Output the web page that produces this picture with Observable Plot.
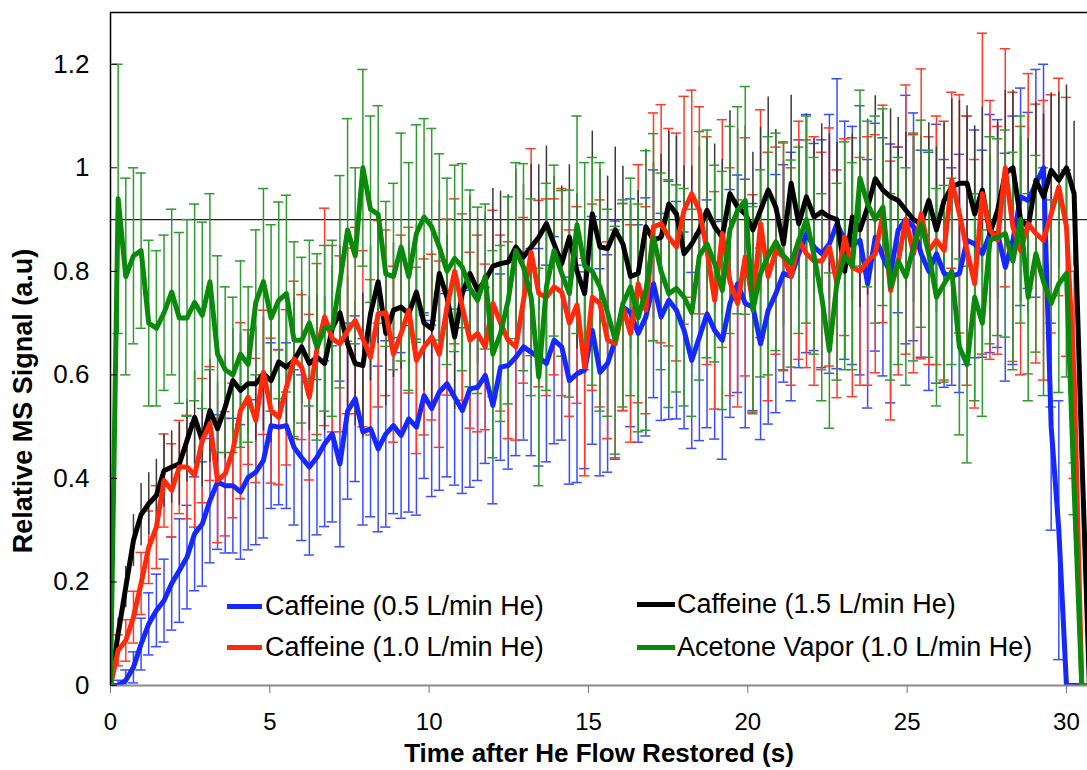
<!DOCTYPE html>
<html><head><meta charset="utf-8">
<script src="https://cdn.jsdelivr.net/npm/d3@7"></script>
<script src="https://cdn.jsdelivr.net/npm/@observablehq/plot@0.6"></script>
<style>
html,body{margin:0;padding:0;background:#fff;}
#wrap{position:relative;width:1087px;height:770px;overflow:hidden;font-family:"Liberation Sans",Arial,sans-serif;}
.leg{position:absolute;font-size:27px;color:#000;white-space:nowrap;line-height:27px;}
.sw{position:absolute;height:5px;}
</style></head><body><div id="wrap"></div>
<script>
// sample times (s)
const time = [0,0.24,0.48,0.72,0.96,1.2,1.44,1.68,1.92,2.16,2.4,2.64,2.88,3.12,3.36,3.6,3.84,4.08,4.32,4.56,4.8,5.04,5.28,5.52,5.76,6,6.24,6.48,6.72,6.96,7.2,7.44,7.68,7.92,8.16,8.4,8.64,8.88,9.12,9.36,9.6,9.84,10.08,10.32,10.56,10.8,11.04,11.28,11.52,11.76,12,12.24,12.48,12.72,12.96,13.2,13.44,13.68,13.92,14.16,14.4,14.64,14.88,15.12,15.36,15.6,15.84,16.08,16.32,16.56,16.8,17.04,17.28,17.52,17.76,18,18.24,18.48,18.72,18.96,19.2,19.44,19.68,19.92,20.16,20.4,20.64,20.88,21.12,21.36,21.6,21.84,22.08,22.32,22.56,22.8,23.04,23.28,23.52,23.76,24,24.24,24.48,24.72,24.96,25.2,25.44,25.68,25.92,26.16,26.4,26.64,26.88,27.12,27.36,27.6,27.84,28.08,28.32,28.56,28.8,29.04,29.28,29.52,29.76,30,30.24,30.48,30.72];

const caffeine05 = [0,0,0.01,0.035,0.08,0.119,0.145,0.164,0.197,0.222,0.248,
0.293,0.312,0.357,0.393,0.386,0.386,0.374,0.402,0.412,0.435,
0.502,0.499,0.502,0.46,0.44,0.422,0.441,0.467,0.486,0.428,
0.53,0.554,0.49,0.496,0.457,0.486,0.502,0.483,0.515,0.499,
0.56,0.535,0.567,0.583,0.557,0.531,0.573,0.576,0.599,0.541,
0.615,0.618,0.634,0.654,0.644,0.634,0.622,0.667,0.654,0.589,
0.602,0.609,0.686,0.605,0.622,0.667,0.731,0.72,0.68,0.712,
0.776,0.712,0.744,0.725,0.686,0.628,0.673,0.718,0.686,0.667,
0.738,0.776,0.738,0.731,0.66,0.725,0.757,0.796,0.79,0.834,
0.873,0.847,0.834,0.853,0.892,0.86,0.85,0.86,0.776,0.866,
0.828,0.796,0.88,0.9,0.886,0.834,0.80,0.834,0.796,0.79,
0.796,0.86,0.853,0.834,0.873,0.873,0.808,0.86,0.944,0.937,
0.97,1.0,0.5,0.3,0,0,0,0];
const caffeine05Err = [0,0.01,0.02,0.03,0.05,0.06,0.07,0.08,0.09,0.1,0.1,
0.11,0.12,0.12,0.13,0.13,0.13,0.13,0.14,0.14,0.15,
0.16,0.15,0.16,0.15,0.16,0.17,0.15,0.16,0.17,0.16,
0.17,0.16,0.18,0.17,0.16,0.18,0.17,0.16,0.18,0.17,
0.16,0.17,0.19,0.18,0.17,0.16,0.19,0.18,0.17,0.19,
0.18,0.2,0.19,0.18,0.2,0.21,0.19,0.2,0.18,0.2,
0.21,0.19,0.22,0.2,0.21,0.23,0.2,0.22,0.21,0.23,
0.22,0.2,0.23,0.21,0.19,0.17,0.2,0.22,0.21,0.23,
0.22,0.21,0.24,0.2,0.185,0.22,0.23,0.21,0.24,0.22,
0.23,0.2,0.22,0.25,0.28,0.23,0.23,0.26,0.24,0.22,
0.23,0.25,0.16,0.24,0.22,0.2,0.23,0.25,0.22,0.21,
0.23,0.24,0.22,0.2,0.23,0.22,0.22,0.24,0.21,0.17,
0.22,0.2,0.2,0.25,0,0,0,0];

const caffeine10 = [0,0.068,0.087,0.132,0.197,0.267,0.306,0.396,0.377,0.422,0.422,
0.406,0.473,0.506,0.396,0.409,0.454,0.531,0.557,0.512,0.605,
0.531,0.518,0.576,0.631,0.615,0.557,0.65,0.712,0.67,0.66,
0.685,0.705,0.67,0.634,0.718,0.72,0.64,0.68,0.725,0.628,
0.654,0.673,0.64,0.731,0.80,0.731,0.667,0.68,0.654,0.738,
0.70,0.667,0.654,0.744,0.837,0.757,0.75,0.77,0.76,0.70,
0.735,0.615,0.75,0.738,0.667,0.66,0.731,0.68,0.776,0.725,
0.886,0.892,0.866,0.847,0.918,0.95,0.918,0.84,0.744,0.873,
0.78,0.738,0.828,0.738,0.892,0.79,0.84,0.828,0.79,0.86,
0.834,0.82,0.82,0.847,0.776,0.866,0.808,0.80,0.82,0.834,
0.911,0.763,0.82,0.9,0.834,0.911,0.84,0.86,0.84,0.976,
0.911,0.84,0.776,0.95,0.88,0.86,1.0,0.886,0.84,0.892,
0.873,0.86,0.911,0.963,0.886,0.6,0,0];
const caffeine10Err = [0,0.03,0.04,0.05,0.06,0.07,0.08,0.09,0.09,0.09,0.1,
0.1,0.12,0.11,0.12,0.12,0.13,0.17,0.13,0.12,0.12,
0.14,0.13,0.15,0.15,0.14,0.16,0.165,0.21,0.18,0.17,
0.16,0.18,0.17,0.15,0.18,0.16,0.17,0.19,0.16,0.18,
0.17,0.16,0.18,0.17,0.14,0.18,0.17,0.19,0.16,0.18,
0.17,0.19,0.18,0.16,0.2,0.18,0.19,0.17,0.2,0.18,
0.19,0.21,0.18,0.2,0.19,0.22,0.2,0.21,0.23,0.2,
0.22,0.23,0.21,0.22,0.22,0.2,0.2,0.22,0.21,0.22,
0.22,0.2,0.23,0.21,0.22,0.24,0.2,0.22,0.21,0.23,
0.22,0.24,0.21,0.23,0.22,0.19,0.25,0.22,0.24,0.23,
0.21,0.25,0.22,0.26,0.23,0.28,0.22,0.24,0.25,0.17,
0.23,0.26,0.24,0.31,0.25,0.22,0.23,0.26,0.24,0.29,
0.25,0.27,0.23,0.21,0.25,0.2,0,0];

const caffeine15 = [0,0.10,0.19,0.28,0.33,0.351,0.367,0.415,0.422,0.428,0.473,
0.518,0.473,0.531,0.496,0.538,0.589,0.57,0.583,0.583,0.602,
0.589,0.625,0.615,0.628,0.654,0.622,0.634,0.622,0.69,0.72,
0.66,0.622,0.618,0.718,0.78,0.68,0.725,0.731,0.718,0.76,
0.70,0.689,0.796,0.75,0.673,0.757,0.796,0.763,0.783,0.81,
0.815,0.818,0.847,0.828,0.847,0.866,0.892,0.853,0.815,0.866,
0.80,0.757,0.911,0.847,0.844,0.88,0.853,0.79,0.796,0.886,
0.86,0.866,0.93,0.911,0.834,0.853,0.88,0.918,0.886,0.866,
0.95,0.924,0.911,0.88,0.918,0.957,0.924,0.853,0.97,0.892,
0.944,0.905,0.915,0.905,0.9,0.80,0.905,0.88,0.924,0.979,
0.957,0.944,0.937,0.918,0.9,0.892,0.937,0.88,0.937,0.963,
0.97,0.97,0.911,0.957,0.873,0.918,0.989,1.0,0.9,0.886,
0.976,0.944,0.995,0.976,1.0,0.95,0.45,0];
const caffeine15Err = [0,0.03,0.04,0.05,0.06,0.06,0.07,0.07,0.07,0.08,0.08,
0.09,0.09,0.1,0.09,0.1,0.1,0.11,0.1,0.11,0.11,
0.12,0.11,0.12,0.12,0.11,0.13,0.12,0.13,0.12,0.13,
0.13,0.12,0.14,0.13,0.12,0.14,0.13,0.12,0.14,0.13,
0.13,0.15,0.14,0.12,0.14,0.13,0.15,0.14,0.13,0.15,
0.14,0.13,0.15,0.14,0.16,0.14,0.15,0.13,0.15,0.14,
0.15,0.14,0.16,0.15,0.14,0.16,0.15,0.14,0.16,0.15,
0.15,0.16,0.14,0.15,0.17,0.15,0.16,0.14,0.16,0.15,
0.16,0.15,0.17,0.15,0.16,0.18,0.15,0.16,0.17,0.15,
0.16,0.15,0.17,0.16,0.15,0.17,0.16,0.15,0.17,0.16,
0.15,0.17,0.16,0.15,0.16,0.17,0.15,0.16,0.15,0.17,
0.16,0.15,0.17,0.16,0.15,0.17,0.16,0.15,0.16,0.17,
0.15,0.16,0.15,0.17,0.16,0.14,0.05,0];

const acetone10 = [0,0.94,0.79,0.83,0.84,0.70,0.69,0.72,0.76,0.71,0.71,
0.74,0.715,0.78,0.64,0.61,0.60,0.64,0.62,0.74,0.78,
0.71,0.744,0.757,0.667,0.667,0.70,0.654,0.69,0.69,0.78,
0.88,0.83,1.0,0.92,0.91,0.795,0.79,0.847,0.79,0.873,
0.905,0.886,0.847,0.80,0.825,0.808,0.767,0.744,0.79,0.64,
0.68,0.744,0.84,0.808,0.75,0.596,0.77,0.84,0.796,0.757,
0.89,0.81,0.80,0.77,0.72,0.667,0.738,0.77,0.71,0.763,
0.866,0.80,0.757,0.767,0.75,0.72,0.83,0.853,0.815,0.763,
0.88,0.918,0.937,0.725,0.796,0.83,0.857,0.83,0.815,0.86,
0.9,0.83,0.75,0.647,0.78,0.83,0.81,0.98,0.93,0.9,
0.924,0.77,0.82,0.79,0.847,0.892,0.834,0.75,0.776,0.80,
0.654,0.62,0.75,0.70,0.86,0.866,0.873,0.82,0.9,0.75,
0.834,0.78,0.738,0.776,0.796,0.38,0,0];
const acetone10Err = [0,0.26,0.19,0.17,0.15,0.16,0.15,0.15,0.16,0.165,0.19,
0.19,0.18,0.17,0.19,0.16,0.15,0.18,0.15,0.14,0.18,
0.18,0.19,0.19,0.19,0.16,0.16,0.18,0.16,0.17,0.205,
0.215,0.17,0.19,0.18,0.21,0.14,0.18,0.22,0.22,0.21,
0.19,0.19,0.18,0.18,0.18,0.2,0.19,0.18,0.14,0.2,
0.17,0.2,0.17,0.2,0.19,0.21,0.2,0.165,0.16,0.2,
0.21,0.2,0.22,0.24,0.2,0.22,0.2,0.21,0.22,0.27,
0.2,0.19,0.22,0.2,0.21,0.2,0.24,0.22,0.19,0.23,
0.2,0.2,0.22,0.2,0.2,0.23,0.21,0.22,0.2,0.18,
0.2,0.19,0.2,0.15,0.19,0.22,0.2,0.17,0.16,0.2,
0.19,0.18,0.2,0.21,0.22,0.2,0.2,0.21,0.19,0.18,
0.17,0.19,0.2,0.18,0.2,0.19,0.2,0.21,0.2,0.2,
0.19,0.22,0.2,0.21,0.2,0.05,0,0];

const seriesNames = ["Caffeine (0.5 L/min He)", "Caffeine (1.0 L/min He)", "Caffeine (1.5 L/min He)", "Acetone Vapor (1.0 L/min He)"];
const xTicks = [0, 5, 10, 15, 20, 25, 30];
const yTicks = [0, 0.2, 0.4, 0.6, 0.8, 1, 1.2];
const yTickLabels = ["0", "0.2", "0.4", "0.6", "0.8", "1", "1.2"];
const referenceLevel = [0.9];

// styles
const styles = [
  {values: caffeine05, errors: caffeine05Err, line: "#1428ff", bar: "#3a4cff", cap: true},
  {values: caffeine10, errors: caffeine10Err, line: "#ff2a0c", bar: "#ff3a2a", cap: true},
  {values: caffeine15, errors: caffeine15Err, line: "#000000", bar: "#3a3a3a", cap: false},
  {values: acetone10, errors: acetone10Err, line: "#0a8a0a", bar: "#2f9a2f", cap: true}
];
const capHalf = 0.16;

const rowsFor = s => time.map((t, i) => ({t, v: s.values[i], e: s.errors[i]}));

const errMarks = [];
const lineMarks = [];
styles.forEach(s => {
  const rows = rowsFor(s).filter(d => d.e > 0);
  errMarks.push(Plot.ruleX(rows, {x: "t", y1: d => d.v - d.e, y2: d => d.v + d.e, stroke: s.bar, strokeWidth: 1.5, clip: true}));
  if (s.cap) {
    errMarks.push(Plot.ruleY(rows, {y: d => d.v + d.e, x1: d => d.t - capHalf, x2: d => d.t + capHalf, stroke: s.bar, strokeWidth: 1.5, clip: true}));
    errMarks.push(Plot.ruleY(rows, {y: d => d.v - d.e, x1: d => d.t - capHalf, x2: d => d.t + capHalf, stroke: s.bar, strokeWidth: 1.5, clip: true}));
  }
});
// line drawing order: blue, black, red, green
[0, 2, 1, 3].forEach(k => {
  const s = styles[k];
  lineMarks.push(Plot.line(rowsFor(s), {x: "t", y: "v", stroke: s.line, strokeWidth: 5, strokeLinejoin: "round", clip: true}));
});

const chart = Plot.plot({
  width: 1087,
  height: 770,
  marginLeft: 110,
  marginRight: 0,
  marginTop: 12,
  marginBottom: 85,
  style: {fontFamily: '"Liberation Sans", Arial, sans-serif', background: "#fff", color: "#000"},
  x: {domain: [0, 30.66]},
  y: {domain: [0, 1.3]},
  marks: [
    Plot.ruleY(referenceLevel, {stroke: "#222", strokeWidth: 1.2}),
    ...errMarks,
    ...lineMarks,
    Plot.ruleY([0], {stroke: "#8a8a8a", strokeWidth: 2}),
    Plot.ruleY([1.3], {stroke: "#000", strokeWidth: 1.5}),
    Plot.ruleX([0], {stroke: "#000", strokeWidth: 1.5}),
    Plot.axisX({ticks: xTicks, tickSize: 8, tickPadding: 19, fontSize: 24, stroke: "#777", tickFormat: d => String(d), label: null}),
    Plot.axisY({ticks: yTicks, tickSize: -7, tickPadding: 28, fontSize: 26, tickFormat: (d, i) => yTickLabels[i], label: null}),
    Plot.text(["Time after He Flow Restored (s)"], {frameAnchor: "bottom", dy: 68, fontSize: 26, fontWeight: "bold", lineAnchor: "middle", textAnchor: "middle"}),
    Plot.text(["Relative MS Signal (a.u)"], {frameAnchor: "left", dx: -87, dy: 52, rotate: -90, fontSize: 27, fontWeight: "bold", lineAnchor: "middle", textAnchor: "middle"})
  ]
});

const wrap = document.getElementById("wrap");
wrap.appendChild(chart);

// legend (inside plot area)
const legendLayout = [
  {k: 0, x1: 227, x2: 262, tx: 265, cy: 606},
  {k: 1, x1: 227, x2: 262, tx: 265, cy: 647},
  {k: 2, x1: 637, x2: 675, tx: 677, cy: 604},
  {k: 3, x1: 637, x2: 675, tx: 677, cy: 647}
];
legendLayout.forEach(l => {
  const sw = document.createElement("div");
  sw.className = "sw";
  sw.style.left = l.x1 + "px";
  sw.style.width = (l.x2 - l.x1) + "px";
  sw.style.top = (l.cy - 2.5) + "px";
  sw.style.background = styles[l.k].line;
  wrap.appendChild(sw);
  const t = document.createElement("div");
  t.className = "leg";
  t.style.left = l.tx + "px";
  t.style.top = (l.cy - 13.5) + "px";
  t.textContent = seriesNames[l.k];
  wrap.appendChild(t);
});
</script></body></html>
